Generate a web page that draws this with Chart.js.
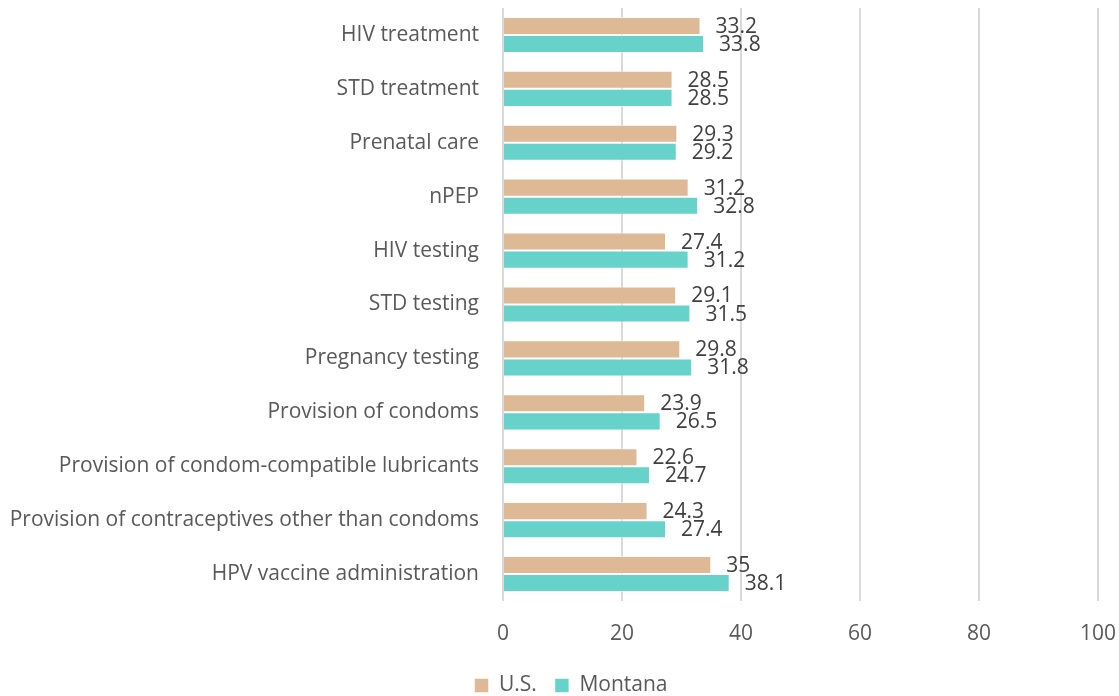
<!DOCTYPE html>
<html>
<head>
<meta charset="utf-8">
<title>Services offered: U.S. vs Montana</title>
<script src="https://cdn.jsdelivr.net/npm/chart.js@4.4.1/dist/chart.umd.min.js"></script>
<style>
  html, body { margin: 0; padding: 0; background: #fff; }
  #wrap { width: 1119px; height: 696px; position: relative; }
</style>
</head>
<body>
<div id="wrap"><canvas id="servicesChart"></canvas></div>
<script>
// --- data ---
const services = [
  'HIV treatment',
  'STD treatment',
  'Prenatal care',
  'nPEP',
  'HIV testing',
  'STD testing',
  'Pregnancy testing',
  'Provision of condoms',
  'Provision of condom-compatible lubricants',
  'Provision of contraceptives other than condoms',
  'HPV vaccine administration'
];
const usValues      = [33.2, 28.5, 29.3, 31.2, 27.4, 29.1, 29.8, 23.9, 22.6, 24.3, 35];
const montanaValues = [33.8, 28.5, 29.2, 32.8, 31.2, 31.5, 31.8, 26.5, 24.7, 27.4, 38.1];
const xTicks = [0, 20, 40, 60, 80, 100];

const FONT = "'Open Sans', 'Noto Sans', sans-serif";

// value labels just past the end of each bar
const barValueLabels = {
  id: 'barValueLabels',
  afterLayout(chart) {
    // legend sits a little right of the canvas centre
    if (chart.legend) {
      chart.legend.left += 22;
      chart.legend.right += 22;
    }
  },
  afterDatasetsDraw(chart) {
    const { ctx } = chart;
    ctx.save();
    ctx.font = `21px ${FONT}`;
    ctx.fillStyle = '#404040';
    ctx.textAlign = 'left';
    ctx.textBaseline = 'middle';
    chart.data.datasets.forEach((ds, i) => {
      const meta = chart.getDatasetMeta(i);
      meta.data.forEach((bar, j) => {
        ctx.fillText(String(ds.data[j]), bar.x + 15, bar.y + 1);
      });
    });
    ctx.restore();
  }
};

new Chart(document.getElementById('servicesChart'), {
  type: 'bar',
  data: {
    labels: services,
    datasets: [
      {
        label: 'U.S.',
        data: usValues,
        backgroundColor: '#ddb995',
        borderColor: 'rgba(255,255,255,0.55)',
        borderWidth: 1,
        categoryPercentage: 0.67,
        barPercentage: 1
      },
      {
        label: 'Montana',
        data: montanaValues,
        backgroundColor: '#66d2c9',
        borderColor: 'rgba(255,255,255,0.55)',
        borderWidth: 1,
        categoryPercentage: 0.67,
        barPercentage: 1
      }
    ]
  },
  options: {
    indexAxis: 'y',
    responsive: true,
    maintainAspectRatio: false,
    animation: false,
    layout: { padding: { top: 8, right: 21, left: 0, bottom: -10 } },
    scales: {
      x: {
        min: 0,
        max: 100,
        afterBuildTicks: (scale) => { scale.ticks = xTicks.map(v => ({ value: v })); },
        afterFit: (scale) => {
          scale.height = 56;
          scale.paddingLeft = 0;
          scale.paddingRight = 0;
        },
        grid: { color: '#d9d9d9', lineWidth: 2, drawTicks: false },
        border: { display: false },
        ticks: {
          padding: 20,
          color: '#595959',
          font: { family: FONT, size: 21 }
        }
      },
      y: {
        afterFit: (scale) => {
          scale.width = 503;
          scale.paddingTop = 0;
          scale.paddingBottom = 0;
        },
        grid: { display: false },
        border: { display: false },
        ticks: {
          padding: 16,
          autoSkip: false,
          color: '#595959',
          font: { family: FONT, size: 21 }
        }
      }
    },
    plugins: {
      tooltip: { enabled: false },
      legend: {
        position: 'bottom',
        labels: {
          boxWidth: 14,
          boxHeight: 14,
          padding: 18,
          color: '#595959',
          font: { family: FONT, size: 21 }
        }
      }
    }
  },
  plugins: [barValueLabels]
});
</script>
</body>
</html>
